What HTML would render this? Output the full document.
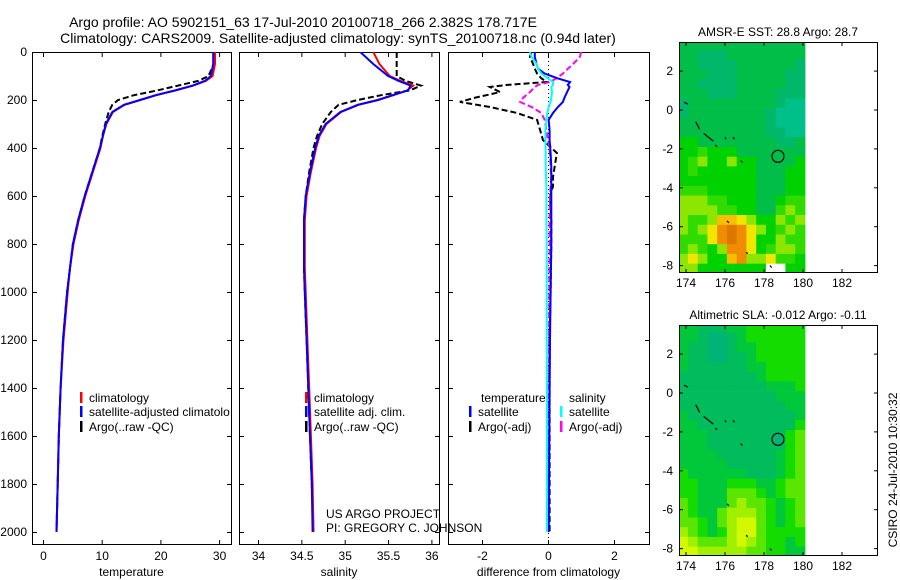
<!DOCTYPE html>
<html><head><meta charset="utf-8"><style>
body{margin:0;background:#fff}
svg{display:block;font-family:"Liberation Sans",sans-serif}
</style></head><body>
<svg id="fig" width="900" height="580" viewBox="0 0 900 580" xmlns="http://www.w3.org/2000/svg">
<rect width="900" height="580" fill="#fff"/>
<text x="303" y="27" font-size="14" text-anchor="middle">Argo profile: AO 5902151_63 17-Jul-2010 20100718_266 2.382S 178.717E</text>
<text x="338" y="43" font-size="14" text-anchor="middle">Climatology: CARS2009. Satellite-adjusted climatology: synTS_20100718.nc (0.94d later)</text>
<defs>
<clipPath id="c1"><rect x="32" y="52" width="199" height="493"/></clipPath>
<clipPath id="c2"><rect x="239" y="52" width="200" height="493"/></clipPath>
<clipPath id="c3"><rect x="448" y="52" width="201" height="493"/></clipPath>
</defs>
<g id="g1"></g>
<g id="g2"></g>
<g id="g3"></g>
<g id="m1"></g>
<g id="m2"></g>
<text x="326" y="518" font-size="12">US ARGO PROJECT</text>
<text x="326" y="532" font-size="12">PI: GREGORY C. JOHNSON</text>
<text transform="translate(897,470) rotate(-90)" font-size="12" text-anchor="middle">CSIRO 24-Jul-2010 10:30:32</text>
</svg>
<script>
const depths=[0,50,100,120,140,160,180,200,220,250,300,350,400,500,600,700,800,900,1000,1200,1400,1600,1800,2000];
const tempClim=[29.3,29.3,28.9,27.8,25.6,22.6,19.3,16.6,13.9,11.9,10.8,10.2,9.8,8.5,7.2,6.1,5.2,4.6,4.2,3.5,3.0,2.7,2.5,2.3];
const tempSat=[29.0,29.0,28.6,27.6,25.5,22.5,19.2,16.5,13.8,11.8,10.7,10.2,9.7,8.4,7.1,6.0,5.1,4.6,4.1,3.4,3.0,2.7,2.5,2.3];
const tempArgo=[29.2,29.1,28.2,26.5,23.0,19.5,15.5,12.8,11.8,11.2,10.6,10.1,9.7,8.4,7.1,6.0,5.1,4.6,4.1,3.4,3.0,2.7,2.5,2.3];
const salClim=[35.33,35.40,35.52,35.64,35.79,35.72,35.56,35.39,35.16,34.96,34.79,34.71,34.67,34.61,34.56,34.54,34.54,34.54,34.55,34.57,34.59,34.61,34.63,34.64];
const salSat=[35.18,35.33,35.50,35.62,35.76,35.73,35.55,35.38,35.15,34.95,34.78,34.70,34.66,34.60,34.55,34.53,34.53,34.53,34.54,34.56,34.58,34.60,34.62,34.63];
const salArgo=[35.60,35.60,35.60,35.70,35.88,35.75,35.42,35.15,34.93,34.84,34.74,34.68,34.64,34.59,34.55,34.53,34.53,34.53,34.54,34.56,34.58,34.60,34.62,34.64];
const diffDepths=[0,20,50,70,90,110,125,137,146,167,190,208,229,254,283,325,367,421,479,521,560,600,700,800,1000,1200,1400,1600,1800,2000];
const diffTempArgo=[-0.5,-0.55,-0.45,-0.4,-0.33,-0.2,-0.03,-1.24,-1.76,-1.45,-2.2,-2.67,-1.76,-0.94,-0.33,-0.24,-0.15,0.27,0.2,0.15,0.15,0.06,0.1,0.1,0.08,0.05,0.05,0.05,0.05,0.05];
const diffTempSat=[-0.4,-0.4,-0.35,-0.3,-0.1,0.3,0.67,0.6,0.65,0.58,0.5,0.45,0.3,0.15,0.02,0.05,0.05,0.08,0.1,0.1,0.1,0.1,0.1,0.1,0.08,0.06,0.05,0.04,0.03,0.02];
const diffSalSat=[-0.55,-0.5,-0.35,-0.3,-0.2,0,0.15,0.15,0.1,0.12,0.1,0.08,0.02,-0.02,-0.05,-0.08,-0.08,-0.07,-0.07,-0.06,-0.05,-0.05,-0.05,-0.04,-0.04,-0.04,-0.03,-0.03,-0.03,-0.03];
const diffSalArgo=[1.0,0.97,0.76,0.6,0.45,0.25,0.06,-0.3,-0.4,-0.55,-0.75,-0.85,-0.5,-0.2,-0.1,-0.05,0.0,0.06,0.08,0.1,0.08,0.06,0.05,0.05,0.04,0.03,0.03,0.03,0.02,0.02];
const depthTicks=[0,200,400,600,800,1000,1200,1400,1600,1800,2000];
const tempTicks=[0,10,20,30];
const salTicks=[34,34.5,35,35.5,36];
const diffTicks=[-2,0,2];
const latTicks=[2,0,-2,-4,-6,-8];
const lonTicks=[174,176,178,180,182];
const sstRows=["2222222222222","2211122222222","2211112222221","2221112222211","2211112222211","2221112222111","1222222222100","1222222221000","2222222221000","2222222221100","3322222222112","3343332222222","3453353322223","3433333322233","3333333322233","4443333322233","5554433322344","5555443322454","5445776533545","5456898653454","4446898633544","4543588634554","5653378556443","553333333ww33"];
const slaRows=["ccbbbccdddddd","ccbaabcdddddd","cbbaabccddddd","cbbaabbcddddd","cbbbbbbccdddd","bbbbbbbbcdddd","bbbbbbbbbcccd","bbbbbbbbbbccc","bbbbbbbbbbbcc","cbbbbbbbbbbbc","ccbbbbbbbbbbd","cccbbbbbbbbde","cccbbbbbbbbde","ccccbbbbbbcde","cccccbbbbbcde","dccccccbbbcde","ddcccdddccdee","ddccceeedcdee","edcccefeedcde","edccefffedcde","eedcefggedcde","fedcdfggedddd","gfeeefgfeddcd","ggfffffeeddcc"];
const argoLon=178.717, argoLat=-2.382;

const NS="http://www.w3.org/2000/svg";
function mk(parent,tag,attrs){const e=document.createElementNS(NS,tag);for(const k in attrs)e.setAttribute(k,attrs[k]);parent.appendChild(e);return e;}
const Y=d=>52+d*0.24;
const panels=[
 {g:'g1',clip:'c1',x0:32,x1:231,X:v=>43+v*5.87,ticks:tempTicks,lab:'temperature',fmt:v=>v},
 {g:'g2',clip:'c2',x0:239,x1:439,X:v=>258+(v-34)*86.7,ticks:salTicks,lab:'salinity',fmt:v=>v},
 {g:'g3',clip:'c3',x0:448,x1:649,X:v=>548+v*33,ticks:diffTicks,lab:'difference from climatology',fmt:v=>v}
];
panels.forEach((p,i)=>{
 const g=document.getElementById(p.g);
 const box=mk(g,'rect',{x:p.x0+0.5,y:52.5,width:p.x1-p.x0,height:492,fill:'none',stroke:'#000','stroke-width':1});
 
 
 depthTicks.forEach(d=>{
  const y=Y(d)+0.5;
  mk(g,'line',{x1:p.x0,x2:p.x0+5,y1:y,y2:y,stroke:'#000'});
  mk(g,'line',{x1:p.x1-4,x2:p.x1+1,y1:y,y2:y,stroke:'#000'});
  if(i===0){const t=mk(g,'text',{x:27,y:Y(d)+4,'font-size':12,'text-anchor':'end'});t.textContent=d;
   
   }
 });
 p.ticks.forEach(v=>{
  const x=p.X(v)+0.5;
  mk(g,'line',{x1:x,x2:x,y1:52,y2:57,stroke:'#000'});
  mk(g,'line',{x1:x,x2:x,y1:540,y2:545,stroke:'#000'});
  const t=mk(g,'text',{x:x,y:560,'font-size':12,'text-anchor':'middle'});t.textContent=p.fmt(v);
  
  
 });
 const xl=mk(g,'text',{x:(p.x0+p.x1)/2,y:576,'font-size':12,'text-anchor':'middle'});xl.textContent=p.lab;
 
 
});
function line(gid,clip,xs,ds,X,color,w,dash,name){
 const g=document.getElementById(gid);
 const pts=xs.map((v,k)=>X(v).toFixed(1)+','+Y(ds[k]).toFixed(1)).join(' ');
 const e=mk(g,'polyline',{points:pts,fill:'none',stroke:color,'stroke-width':w,'clip-path':'url(#'+clip+')'});
 if(dash)e.setAttribute('stroke-dasharray',dash);
 
 
}
const P=panels;
line('g1','c1',tempArgo,depths,P[0].X,'#000',2,'6,3','temp-argo-line');
line('g1','c1',tempClim,depths,P[0].X,'#f00',2,null,'temp-climatology-line');
line('g1','c1',tempSat,depths,P[0].X,'#00f',2,null,'temp-satellite-line');
line('g2','c2',salArgo,depths,P[1].X,'#000',2,'6,3','sal-argo-line');
line('g2','c2',salClim,depths,P[1].X,'#f00',2,null,'sal-climatology-line');
line('g2','c2',salSat,depths,P[1].X,'#00f',2,null,'sal-satellite-line');
{const g3=document.getElementById('g3');const z=mk(g3,'line',{x1:P[2].X(0)+0.5,x2:P[2].X(0)+0.5,y1:53,y2:544,stroke:'#000','stroke-dasharray':'1,3'});

}
line('g3','c3',diffTempArgo,diffDepths,P[2].X,'#000',2,'6,3','diff-temp-argo-line');
line('g3','c3',diffSalArgo,diffDepths,P[2].X,'#f0f',2,'6,3','diff-sal-argo-line');
line('g3','c3',diffTempSat,diffDepths,P[2].X,'#00f',2,null,'diff-temp-satellite-line');
line('g3','c3',diffSalSat,diffDepths,P[2].X,'#0ff',2,null,'diff-sal-satellite-line');

function legend(gid,items){
 const g=document.getElementById(gid);
 items.forEach(it=>{
  if(it.c){const b=mk(g,'rect',{x:it.x,y:it.y-10,width:2.5,height:11,fill:it.c});
   
   }
  const t=mk(g,'text',{x:it.x+(it.c?9:0),y:it.y,'font-size':12});t.textContent=it.t;
  
  
 });
}
legend('g1',[{x:80,y:402,c:'#f00',t:'climatology'},{x:80,y:416,c:'#00f',t:'satellite-adjusted climatolo'},{x:80,y:431,c:'#000',t:'Argo(..raw -QC)'}]);
legend('g2',[{x:305,y:402,c:'#f00',t:'climatology'},{x:305,y:416,c:'#00f',t:'satellite adj. clim.'},{x:305,y:431,c:'#000',t:'Argo(..raw -QC)'}]);
legend('g3',[{x:481,y:402,t:'temperature'},{x:469,y:416,c:'#00f',t:'satellite'},{x:469,y:431,c:'#000',t:'Argo(-adj)'},
 {x:569,y:402,t:'salinity'},{x:560,y:416,c:'#0ff',t:'satellite'},{x:560,y:431,c:'#f0f',t:'Argo(-adj)'}]);

const sstCols={'0':'#00c08a','1':'#00b86a','2':'#00be48','3':'#00d200','4':'#30dc00','5':'#8ce600','6':'#f0e600','7':'#fabe00','8':'#f08c00','9':'#dc7800','w':'#ffffff'};
const slaCols={'a':'#00b478','b':'#00bc5c','c':'#00c83a','d':'#14dc00','e':'#5ae600','f':'#a0f000','g':'#d4f800'};
function map(gid,top,rows,cols,title,filledCircle){
 const g=document.getElementById(gid);
 const L=679,R=877,B=top+230;
 const lx=lon=>686+(lon-174)*19.5;
 const ly=lat=>top+68+(0-lat)*19.45;
 const t=mk(g,'text',{x:778,y:top-6,'font-size':12,'text-anchor':'middle'});t.textContent=title;
 
 
 rows.forEach((r,ri)=>{
  for(let ci=0;ci<r.length;ci++){
   const lon0=173.6+ci*0.5, lat0=3.6-ri*0.5;
   const x=Math.max(L,lx(lon0)), y=Math.max(top,ly(lat0));
   const c=mk(g,'rect',{x:x.toFixed(1),y:y.toFixed(1),width:(lx(lon0+0.5)-x+0.4).toFixed(1),height:(Math.min(B,ly(lat0-0.5))-y+0.4).toFixed(1),fill:cols[r[ci]]});
   
   
  }
 });
 const fr=mk(g,'rect',{x:L+0.5,y:top+0.5,width:R-L,height:B-top,fill:'none',stroke:'#000'});
 
 
 latTicks.forEach(v=>{const y=ly(v);
  mk(g,'line',{x1:L,x2:L+4,y1:y,y2:y,stroke:'#000'});mk(g,'line',{x1:R-3,x2:R+1,y1:y,y2:y,stroke:'#000'});
  const tl=mk(g,'text',{x:L-6,y:y+4,'font-size':12,'text-anchor':'end'});tl.textContent=v;
  
  });
 lonTicks.forEach(v=>{const x=lx(v);
  mk(g,'line',{x1:x,x2:x,y1:top,y2:top+4,stroke:'#000'});mk(g,'line',{x1:x,x2:x,y1:B-3,y2:B+1,stroke:'#000'});
  const tl=mk(g,'text',{x:x,y:B+15,'font-size':12,'text-anchor':'middle'});tl.textContent=v;
  
  });
 [[173.9,0.4,174.1,0.3],[174.5,-0.6,174.7,-1.0],[174.9,-1.2,175.4,-1.6],[176,-1.4,176.05,-1.5],[176.4,-1.4,176.5,-1.5],[175.5,-1.8,175.6,-1.9],[176.8,-2.6,176.9,-2.7],[176.1,-5.7,176.2,-5.8],[177.1,-7.3,177.15,-7.4],[178.3,-8.0,178.4,-8.1]].forEach(s=>{
  const e=mk(g,'line',{x1:lx(s[0]),y1:ly(s[1]),x2:lx(s[2]),y2:ly(s[3]),stroke:'#000','stroke-width':1.2});
  
  });
 const c=mk(g,'circle',{cx:lx(argoLon),cy:ly(argoLat),r:6,fill:filledCircle||'none',stroke:'#000','stroke-width':1.2});
 
 
}
map('m1',42,sstRows,sstCols,'AMSR-E SST: 28.8 Argo: 28.7',null);
map('m2',325,slaRows,slaCols,'Altimetric SLA: -0.012 Argo: -0.11','#00b478');
</script>
</body></html>
